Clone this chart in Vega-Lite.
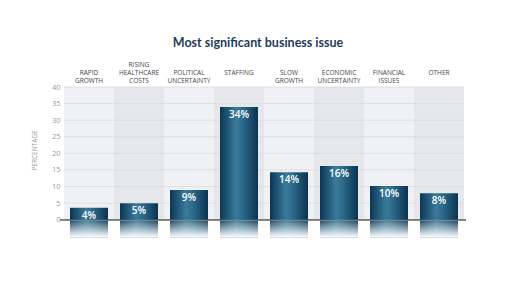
{
  "$schema": "https://vega.github.io/schema/vega-lite/v6.json",
  "width": 400,
  "height": 151,
  "autosize": {"type": "none"},
  "padding": {"left": 64, "top": 87, "right": 48, "bottom": 50},
  "background": "white",
  "title": {
    "text": "Most significant business issue",
    "font": "Lato",
    "fontSize": 12.5,
    "fontWeight": "bold",
    "color": "#1e3d5c",
    "anchor": "middle",
    "dx": -6,
    "offset": 12
  },
  "config": {
    "view": {"stroke": null},
    "axisY": {
      "labelFont": "Open Sans",
      "domain": false,
      "ticks": false,
      "grid": false,
      "labelOverlap": false,
      "labelFontSize": 7.5,
      "labelColor": "#9a9a9a",
      "labelPadding": 4,
      "titleFont": "Open Sans",
      "titleFontSize": 6.5,
      "titleFontWeight": "normal",
      "titleColor": "#9a9a9a",
      "titleX": -27,
      "titleY": 63
    },
    "axisX": {
      "labelFont": "Open Sans",
      "domain": false,
      "ticks": false,
      "labelAngle": 0,
      "labelBaseline": "top",
      "labelLineHeight": 8,
      "labelFontSize": 6.5,
      "labelColor": "#444444",
      "labelPadding": 26
    }
  },
  "datasets": {
    "issues": [
      {"issue": "RAPID GROWTH", "value": 3.6, "label": "4%"},
      {"issue": "RISING HEALTHCARE COSTS", "value": 5, "label": "5%"},
      {"issue": "POLITICAL UNCERTAINTY", "value": 9, "label": "9%"},
      {"issue": "STAFFING", "value": 34, "label": "34%"},
      {"issue": "SLOW GROWTH", "value": 14.3, "label": "14%"},
      {"issue": "ECONOMIC UNCERTAINTY", "value": 16.2, "label": "16%"},
      {"issue": "FINANCIAL ISSUES", "value": 10.2, "label": "10%"},
      {"issue": "OTHER", "value": 8, "label": "8%"}
    ],
    "grid": [{"t": 5}, {"t": 10}, {"t": 15}, {"t": 20}, {"t": 25}, {"t": 30}, {"t": 35}, {"t": 40}]
  },
  "data": {"name": "issues"},
  "transform": [{"window": [{"op": "row_number", "as": "idx"}]}],
  "encoding": {
    "x": {
      "field": "issue",
      "type": "nominal",
      "sort": null,
      "scale": {"paddingInner": 0, "paddingOuter": 0},
      "axis": {
        "orient": "top",
        "title": null,
        "labelExpr": "length(split(datum.label, ' ')) == 1 ? ['', '', datum.label] : length(split(datum.label, ' ')) == 2 ? ['', split(datum.label, ' ')[0], split(datum.label, ' ')[1]] : split(datum.label, ' ')"
      }
    }
  },
  "layer": [
    {
      "mark": {"type": "bar"},
      "encoding": {
        "y": {
          "datum": 40,
          "type": "quantitative",
          "scale": {"domain": [-5.5, 40], "nice": false},
          "axis": {"title": "PERCENTAGE", "values": [0, 5, 10, 15, 20, 25, 30, 35, 40]}
        },
        "y2": {"datum": 0},
        "fill": {
          "condition": {"test": "datum.idx % 2 == 0", "value": "#e5e7eb"},
          "value": "#f0f1f4"
        }
      }
    },
    {
      "data": {"name": "grid"},
      "mark": {"type": "rule", "color": "#d9dbe0", "strokeWidth": 0.8},
      "encoding": {"y": {"field": "t", "type": "quantitative", "axis": {"title": "PERCENTAGE", "values": [0, 5, 10, 15, 20, 25, 30, 35, 40]}}, "x": {"value": 0}, "x2": {"value": 400}}
    },
    {
      "mark": {"type": "rule", "color": "#7a7a7a", "strokeWidth": 1},
      "encoding": {"y": {"datum": 0, "type": "quantitative", "axis": {"title": "PERCENTAGE", "values": [0, 5, 10, 15, 20, 25, 30, 35, 40]}}, "x": {"value": -4}, "x2": {"value": 402}}
    },
    {
      "mark": {
        "type": "bar",
        "width": {"band": 0.76},
        "fill": {
          "gradient": "linear", "x1": 0, "x2": 1, "y1": 0, "y2": 0,
          "stops": [
            {"offset": 0, "color": "#0b3654"},
            {"offset": 0.42, "color": "#3a7a9a"},
            {"offset": 0.6, "color": "#2c6a8a"},
            {"offset": 1, "color": "#0a3351"}
          ]
        }
      },
      "encoding": {"y": {"datum": -0.3, "type": "quantitative", "axis": {"title": "PERCENTAGE", "values": [0, 5, 10, 15, 20, 25, 30, 35, 40]}}, "y2": {"datum": -5.3}}
    },
    {
      "mark": {
        "type": "bar",
        "width": {"band": 0.76},
        "fill": {
          "gradient": "linear", "x1": 0, "x2": 0, "y1": 0, "y2": 1,
          "stops": [
            {"offset": 0, "color": "rgba(255,255,255,0.1)"},
            {"offset": 1, "color": "rgba(255,255,255,1)"}
          ]
        }
      },
      "encoding": {"y": {"datum": -0.3, "type": "quantitative", "axis": {"title": "PERCENTAGE", "values": [0, 5, 10, 15, 20, 25, 30, 35, 40]}}, "y2": {"datum": -5.3}}
    },
    {
      "mark": {
        "type": "bar",
        "width": {"band": 0.76},
        "fill": {
          "gradient": "linear", "x1": 0, "x2": 1, "y1": 0, "y2": 0,
          "stops": [
            {"offset": 0, "color": "#0b3654"},
            {"offset": 0.42, "color": "#3a7a9a"},
            {"offset": 0.6, "color": "#2c6a8a"},
            {"offset": 1, "color": "#0a3351"}
          ]
        }
      },
      "encoding": {"y": {"field": "value", "type": "quantitative", "axis": {"title": "PERCENTAGE", "values": [0, 5, 10, 15, 20, 25, 30, 35, 40]}}, "y2": {"datum": 0}}
    },
    {
      "mark": {"type": "text", "baseline": "top", "dy": 3, "color": "white", "font": "Open Sans", "fontWeight": 600, "fontSize": 10},
      "encoding": {"y": {"field": "value", "type": "quantitative", "axis": {"title": "PERCENTAGE", "values": [0, 5, 10, 15, 20, 25, 30, 35, 40]}}, "text": {"field": "label"}}
    }
  ]
}
